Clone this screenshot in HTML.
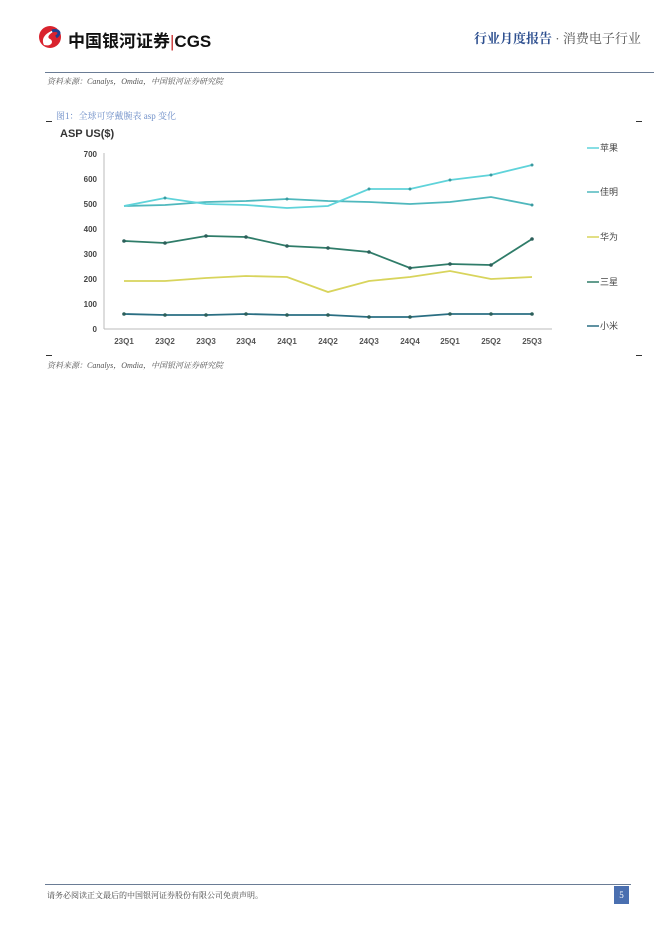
<!DOCTYPE html>
<html><head><meta charset="utf-8"><style>
body{margin:0;width:662px;height:936px;background:#fff;position:relative;font-family:"Liberation Serif","Noto Serif CJK SC",serif;overflow:hidden}
.a{position:absolute}
</style></head><body>
<svg class="a" style="left:36px;top:25px" width="30" height="24" viewBox="0 0 30 24">
<circle cx="14" cy="12" r="11" fill="#d9232e"/>
<path d="M8 20 C4 12 12 6 22 4 C14 8 10 12 14 14 C18 16 16 22 8 20Z" fill="#fff"/>
<path d="M16 6 C22 4 26 8 20 12" stroke="#1f3f8f" stroke-width="3" fill="none"/>
</svg>
<div class="a" style="left:68px;top:27px;font:bold 17px 'Liberation Sans','Noto Sans CJK SC',sans-serif;color:#111">中国银河证券<span style="font-weight:normal;color:#c33">|</span>CGS</div>
<div class="a" style="left:474px;top:28px;font-size:13px;color:#2d4f8f;font-weight:bold">行业月度报告 <span style="color:#555;font-weight:normal">· 消费电子行业</span></div>
<div class="a" style="left:45px;top:72px;width:609px;height:1px;background:#6a7c95"></div>
<div class="a" style="left:47px;top:76px;font-size:8px;color:#555;font-style:italic">资料来源：Canalys，Omdia，中国银河证券研究院</div>
<div class="a" style="left:56px;top:109px;font-size:9px;color:#6f8fc8">图1：全球可穿戴腕表 asp 变化</div>
<div class="a" style="left:46px;top:121px;width:6px;height:1px;background:#333"></div>
<div class="a" style="left:636px;top:121px;width:6px;height:1px;background:#333"></div>
<div class="a" style="left:46px;top:355px;width:6px;height:1px;background:#333"></div>
<div class="a" style="left:636px;top:355px;width:6px;height:1px;background:#333"></div>
<svg class="a" style="left:0;top:0" width="662" height="400" font-family="Liberation Sans,Noto Sans CJK SC,sans-serif">
<text x="60" y="137" font-size="11" font-weight="bold" fill="#333">ASP US($)</text>
<g font-size="8" fill="#444" text-anchor="end" font-weight="bold">
<text x="97" y="157">700</text><text x="97" y="182">600</text><text x="97" y="207">500</text><text x="97" y="232">400</text><text x="97" y="257">300</text><text x="97" y="282">200</text><text x="97" y="307">100</text><text x="97" y="332">0</text></g>
<line x1="104" y1="153" x2="104" y2="329" stroke="#bbb"/>
<line x1="104" y1="329" x2="552" y2="329" stroke="#bbb"/>
<g font-size="8" fill="#555" text-anchor="middle" font-weight="bold">
<text x="124" y="344">23Q1</text><text x="165" y="344">23Q2</text><text x="206" y="344">23Q3</text><text x="246" y="344">23Q4</text><text x="287" y="344">24Q1</text><text x="328" y="344">24Q2</text><text x="369" y="344">24Q3</text><text x="410" y="344">24Q4</text><text x="450" y="344">25Q1</text><text x="491" y="344">25Q2</text><text x="532" y="344">25Q3</text></g>
<g fill="none" stroke-width="1.8" marker-start="url(#m)">
<polyline stroke="#4fb8bd" points="124,206 165,205 206,202 246,201 287,199 328,201 369,202 410,204 450,202 491,197 532,205"/>
<polyline stroke="#5fd3da" points="124,206 165,198 206,204 246,205 287,208 328,206 369,189 410,189 450,180 491,175 532,165"/>
<polyline stroke="#d8d45c" points="124,281 165,281 206,278 246,276 287,277 328,292 369,281 410,277 450,271 491,279 532,277"/>
<polyline stroke="#2f7c69" points="124,241 165,243 206,236 246,237 287,246 328,248 369,252 410,268 450,264 491,265 532,239"/>
<polyline stroke="#2a6e82" points="124,314 165,315 206,315 246,314 287,315 328,315 369,317 410,317 450,314 491,314 532,314"/>
</g>
<g fill="#2c5f5a">
<circle cx="124" cy="241" r="1.8"/><circle cx="165" cy="243" r="1.8"/><circle cx="206" cy="236" r="1.8"/><circle cx="246" cy="237" r="1.8"/><circle cx="287" cy="246" r="1.8"/><circle cx="328" cy="248" r="1.8"/><circle cx="369" cy="252" r="1.8"/><circle cx="410" cy="268" r="1.8"/><circle cx="450" cy="264" r="1.8"/><circle cx="491" cy="265" r="1.8"/><circle cx="532" cy="239" r="1.8"/>
<circle cx="124" cy="314" r="1.8"/><circle cx="165" cy="315" r="1.8"/><circle cx="206" cy="315" r="1.8"/><circle cx="246" cy="314" r="1.8"/><circle cx="287" cy="315" r="1.8"/><circle cx="328" cy="315" r="1.8"/><circle cx="369" cy="317" r="1.8"/><circle cx="410" cy="317" r="1.8"/><circle cx="450" cy="314" r="1.8"/><circle cx="491" cy="314" r="1.8"/><circle cx="532" cy="314" r="1.8"/>
</g>
<g fill="#3a9aa0">
<circle cx="165" cy="198" r="1.5"/><circle cx="369" cy="189" r="1.5"/><circle cx="410" cy="189" r="1.5"/><circle cx="450" cy="180" r="1.5"/><circle cx="491" cy="175" r="1.5"/><circle cx="532" cy="165" r="1.5"/><circle cx="532" cy="205" r="1.5"/><circle cx="287" cy="199" r="1.5"/>
</g>
<g transform="translate(587,0)" font-size="9" fill="#444">
<line x1="0" y1="148" x2="12" y2="148" stroke="#5fd3da" stroke-width="1.5"/><text x="13" y="151">苹果</text>
<line x1="0" y1="192" x2="12" y2="192" stroke="#4fb8bd" stroke-width="1.5"/><text x="13" y="195">佳明</text>
<line x1="0" y1="237" x2="12" y2="237" stroke="#d8d45c" stroke-width="1.5"/><text x="13" y="240">华为</text>
<line x1="0" y1="282" x2="12" y2="282" stroke="#2f7c69" stroke-width="1.5"/><text x="13" y="285">三星</text>
<line x1="0" y1="326" x2="12" y2="326" stroke="#2a6e82" stroke-width="1.5"/><text x="13" y="329">小米</text>
</g>
</svg>
<div class="a" style="left:47px;top:360px;font-size:8px;color:#555;font-style:italic">资料来源：Canalys，Omdia，中国银河证券研究院</div>
<div class="a" style="left:45px;top:884px;width:586px;height:1px;background:#6a7c95"></div>
<div class="a" style="left:47px;top:890px;font-size:8px;color:#444">请务必阅读正文最后的中国银河证券股份有限公司免责声明。</div>
<div class="a" style="left:614px;top:886px;width:15px;height:18px;background:#4a6fb0;color:#fff;font-size:9px;text-align:center;line-height:18px">5</div>
</body></html>
